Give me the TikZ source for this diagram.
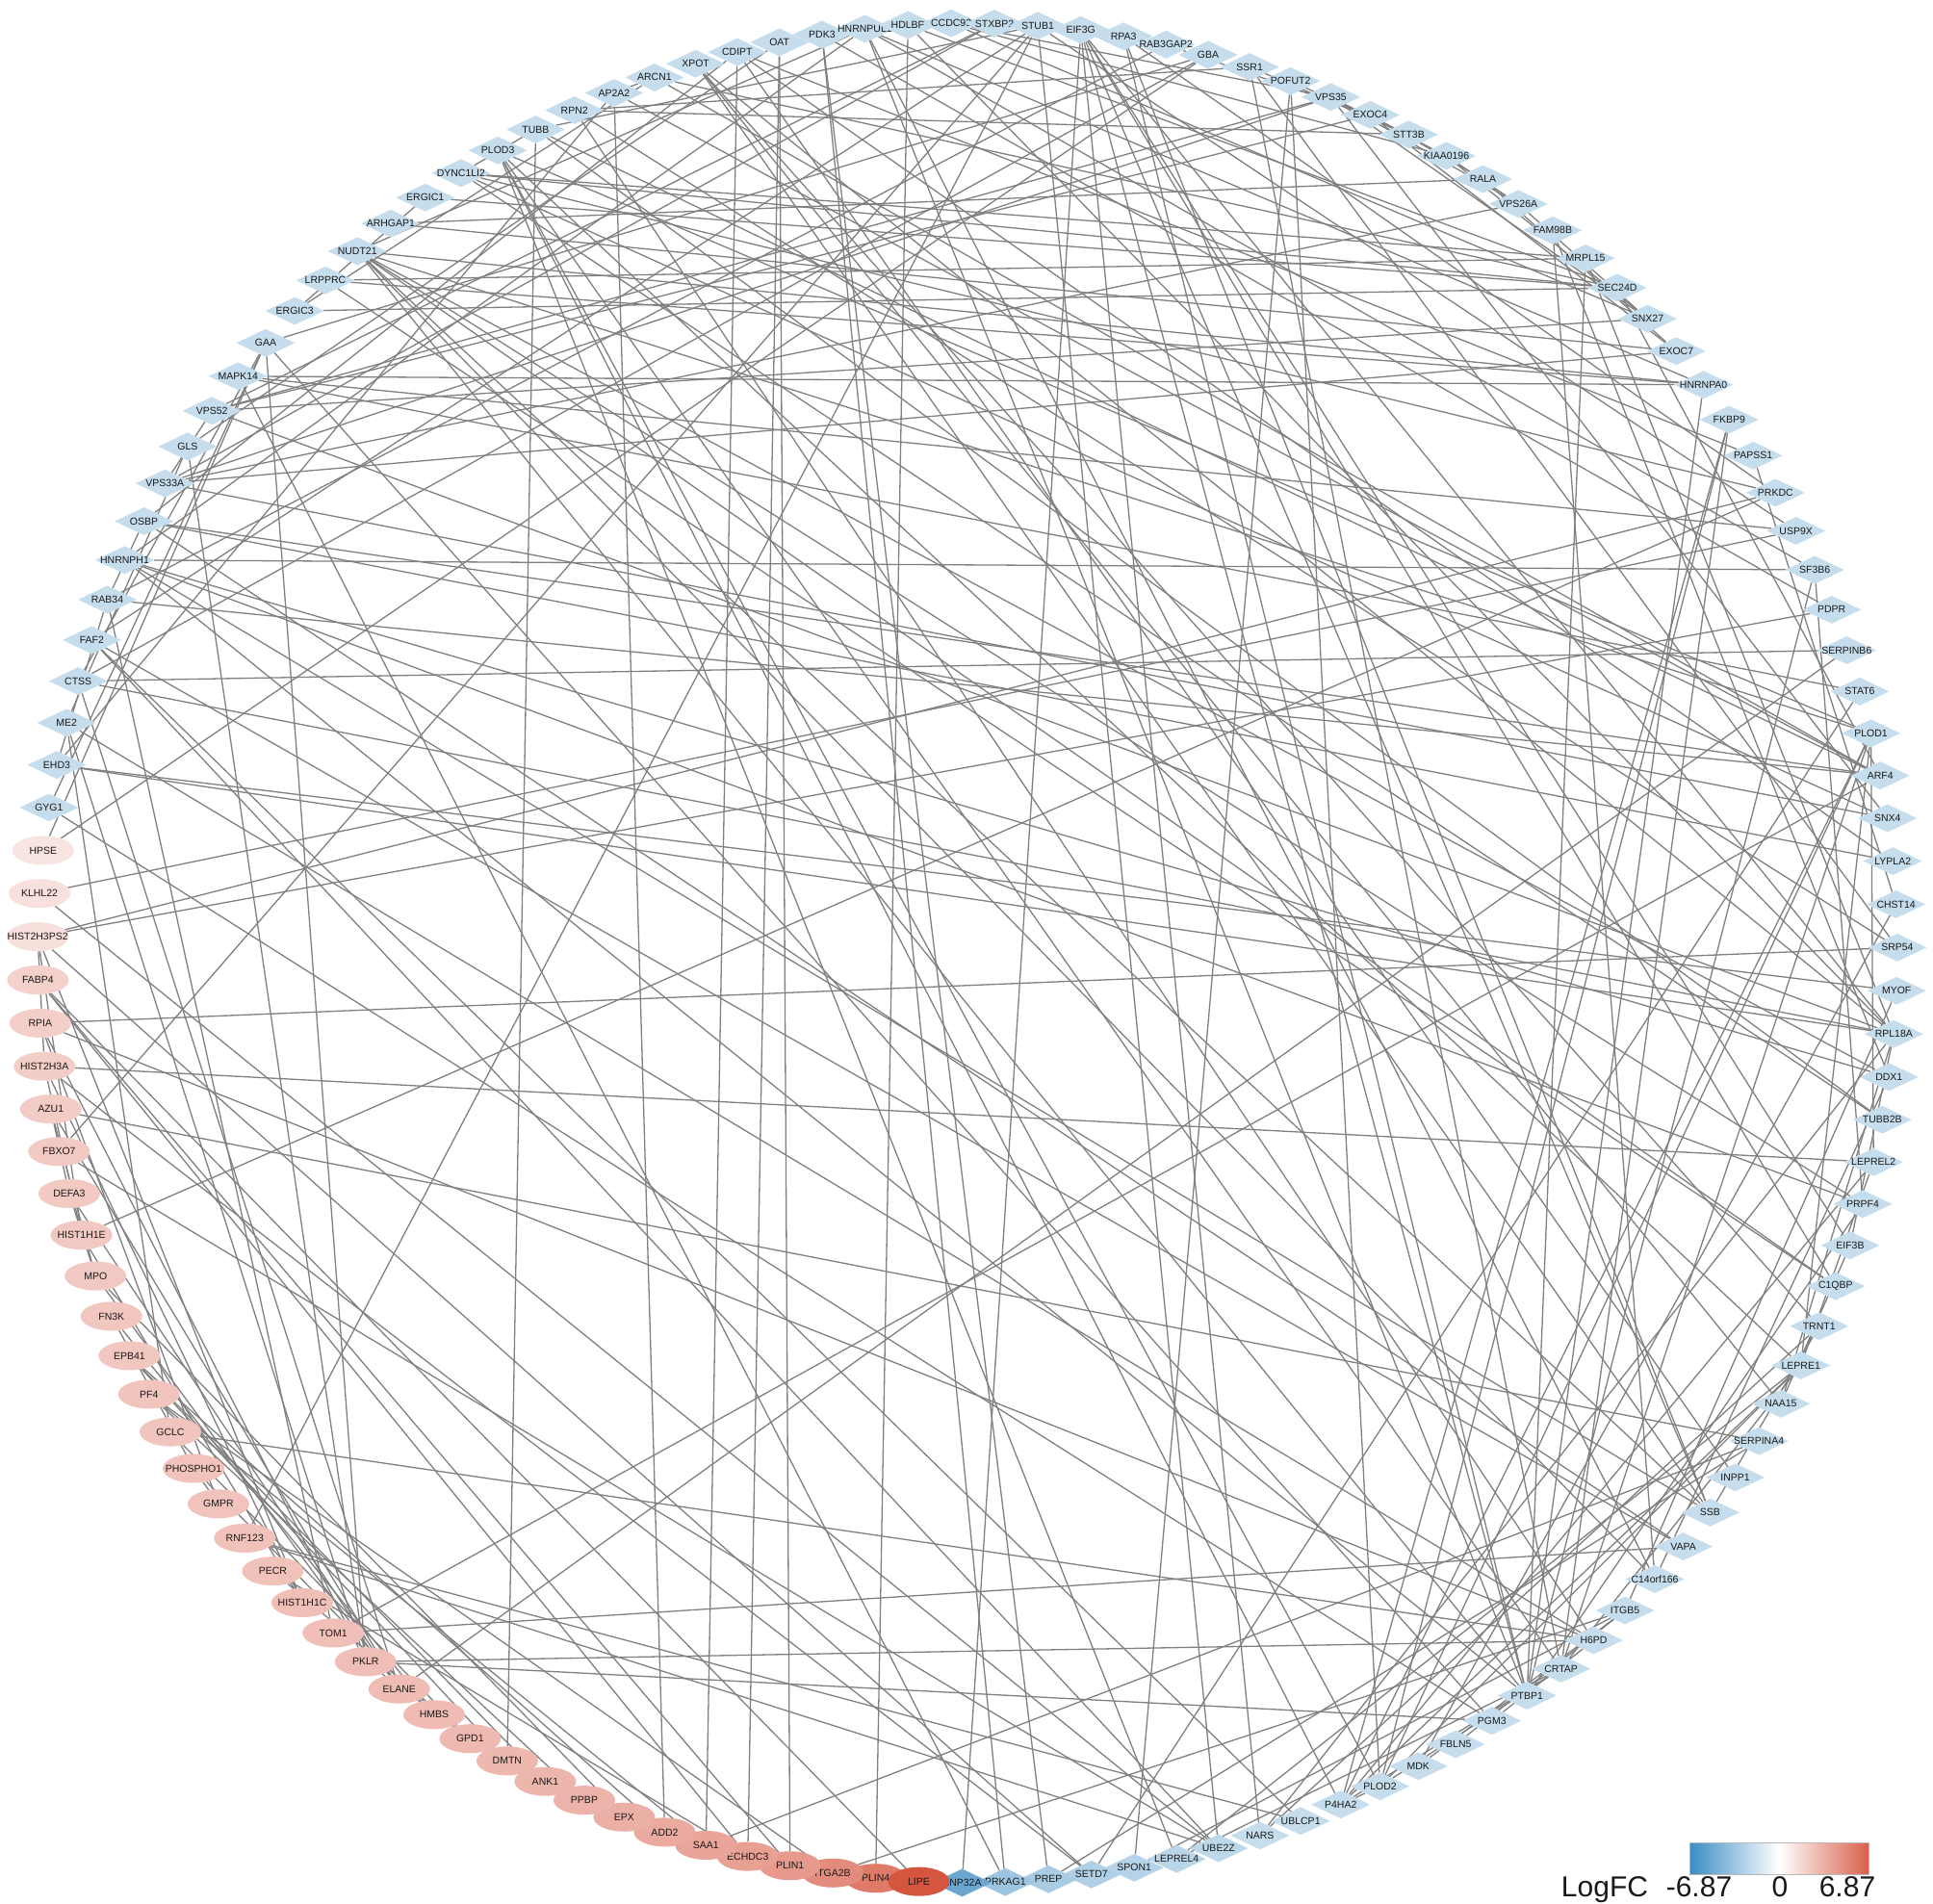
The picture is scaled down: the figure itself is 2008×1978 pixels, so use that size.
\documentclass[tikz,border=0pt]{standalone}
\usepackage{fontspec}
\setmainfont{Liberation Sans}
\usetikzlibrary{shapes.geometric}
\pgfdeclarelayer{bglayer}
\pgfdeclarelayer{edgelayer}
\pgfsetlayers{bglayer,edgelayer,main}
\definecolor{lb}{RGB}{197,221,236}
\definecolor{nb1}{RGB}{107,166,209}
\definecolor{nb2}{RGB}{157,196,224}
\definecolor{nb3}{RGB}{169,204,228}
\definecolor{nb4}{RGB}{175,208,230}
\definecolor{nb5}{RGB}{181,211,232}
\definecolor{nb6}{RGB}{185,214,233}
\definecolor{nb7}{RGB}{188,216,234}
\definecolor{lr}{RGB}{214,85,63}
\definecolor{legblue}{RGB}{58,140,196}
\definecolor{legred}{RGB}{217,96,76}
\definecolor{conngray}{RGB}{128,128,128}
\tikzset{
  bdia/.style={diamond, minimum width=61pt, minimum height=29pt, inner sep=0pt, draw=none},
  rell/.style={ellipse, minimum width=64pt, minimum height=30pt, inner sep=0pt, draw=none},
  lbl/.style={inner sep=0pt, text=black!90, font=\fontsize{10.5}{12}\selectfont},
  conn/.style={draw=conngray, line width=1.3pt},
  legtxt/.style={inner sep=0pt, text=black!90, font=\fontsize{30}{36}\selectfont}
}
\newcommand\mkblue[3]{%
  \node[bdia, fill=#3] (#2) at ({267+2.666667*#1}:966) {};
  \node[lbl] (#2-t) at (#2) {#2};}
\newcommand\mkred[3]{%
  \node[rell, fill=lr!#3!white] (#2) at ({267+2.666667*#1}:966) {};
  \node[lbl] (#2-t) at (#2) {#2};}
\begin{document}
\begin{tikzpicture}[x=1pt,y=1pt]
\begin{pgfonlayer}{bglayer}
\fill[white] (-1005,-988) rectangle (1003,990);
\end{pgfonlayer}
\useasboundingbox (-1005,-988) rectangle (1003,990);
% red nodes
\mkred{134}{PLIN4}{78}
\mkred{133}{ITGA2B}{68}
\mkred{132}{PLIN1}{60}
\mkred{131}{ECHDC3}{56}
\mkred{130}{SAA1}{53}
\mkred{129}{ADD2}{50}
\mkred{128}{EPX}{47}
\mkred{127}{PPBP}{45}
\mkred{126}{ANK1}{43}
\mkred{125}{DMTN}{42}
\mkred{124}{GPD1}{41}
\mkred{123}{HMBS}{40}
\mkred{122}{ELANE}{39}
\mkred{121}{PKLR}{38}
\mkred{120}{TOM1}{37}
\mkred{119}{HIST1H1C}{37}
\mkred{118}{PECR}{36}
\mkred{117}{RNF123}{36}
\mkred{116}{GMPR}{35}
\mkred{115}{PHOSPHO1}{35}
\mkred{114}{GCLC}{34}
\mkred{113}{PF4}{34}
\mkred{112}{EPB41}{33}
\mkred{111}{FN3K}{33}
\mkred{110}{MPO}{32}
\mkred{109}{HIST1H1E}{32}
\mkred{108}{DEFA3}{31}
\mkred{107}{FBXO7}{31}
\mkred{106}{AZU1}{30}
\mkred{105}{HIST2H3A}{29}
\mkred{104}{RPIA}{28}
\mkred{103}{FABP4}{27}
\mkred{102}{HIST2H3PS2}{19}
\mkred{101}{KLHL22}{18}
\mkred{100}{HPSE}{16}
% blue nodes
\mkblue{99}{GYG1}{lb}
\mkblue{98}{EHD3}{lb}
\mkblue{97}{ME2}{lb}
\mkblue{96}{CTSS}{lb}
\mkblue{95}{FAF2}{lb}
\mkblue{94}{RAB34}{lb}
\mkblue{93}{HNRNPH1}{lb}
\mkblue{92}{OSBP}{lb}
\mkblue{91}{VPS33A}{lb}
\mkblue{90}{GLS}{lb}
\mkblue{89}{VPS52}{lb}
\mkblue{88}{MAPK14}{lb}
\mkblue{87}{GAA}{lb}
\mkblue{86}{ERGIC3}{lb}
\mkblue{85}{LRPPRC}{lb}
\mkblue{84}{NUDT21}{lb}
\mkblue{83}{ARHGAP1}{lb}
\mkblue{82}{ERGIC1}{lb}
\mkblue{81}{DYNC1LI2}{lb}
\mkblue{80}{PLOD3}{lb}
\mkblue{79}{TUBB}{lb}
\mkblue{78}{RPN2}{lb}
\mkblue{77}{AP2A2}{lb}
\mkblue{76}{ARCN1}{lb}
\mkblue{75}{XPOT}{lb}
\mkblue{74}{CDIPT}{lb}
\mkblue{73}{OAT}{lb}
\mkblue{72}{PDK3}{lb}
\mkblue{71}{HNRNPUL1}{lb}
\mkblue{70}{HDLBP}{lb}
\mkblue{69}{CCDC93}{lb}
\mkblue{68}{STXBP2}{lb}
\mkblue{67}{STUB1}{lb}
\mkblue{66}{EIF3G}{lb}
\mkblue{65}{RPA3}{lb}
\mkblue{64}{RAB3GAP2}{lb}
\mkblue{63}{GBA}{lb}
\mkblue{62}{SSR1}{lb}
\mkblue{61}{POFUT2}{lb}
\mkblue{60}{VPS35}{lb}
\mkblue{59}{EXOC4}{lb}
\mkblue{58}{STT3B}{lb}
\mkblue{57}{KIAA0196}{lb}
\mkblue{56}{RALA}{lb}
\mkblue{55}{VPS26A}{lb}
\mkblue{54}{FAM98B}{lb}
\mkblue{53}{MRPL15}{lb}
\mkblue{52}{SEC24D}{lb}
\mkblue{51}{SNX27}{lb}
\mkblue{50}{EXOC7}{lb}
\mkblue{49}{HNRNPA0}{lb}
\mkblue{48}{FKBP9}{lb}
\mkblue{47}{PAPSS1}{lb}
\mkblue{46}{PRKDC}{lb}
\mkblue{45}{USP9X}{lb}
\mkblue{44}{SF3B6}{lb}
\mkblue{43}{PDPR}{lb}
\mkblue{42}{SERPINB6}{lb}
\mkblue{41}{STAT6}{lb}
\mkblue{40}{PLOD1}{lb}
\mkblue{39}{ARF4}{lb}
\mkblue{38}{SNX4}{lb}
\mkblue{37}{LYPLA2}{lb}
\mkblue{36}{CHST14}{lb}
\mkblue{35}{SRP54}{lb}
\mkblue{34}{MYOF}{lb}
\mkblue{33}{RPL18A}{lb}
\mkblue{32}{DDX1}{lb}
\mkblue{31}{TUBB2B}{lb}
\mkblue{30}{LEPREL2}{lb}
\mkblue{29}{PRPF4}{lb}
\mkblue{28}{EIF3B}{lb}
\mkblue{27}{C1QBP}{lb}
\mkblue{26}{TRNT1}{lb}
\mkblue{25}{LEPRE1}{lb}
\mkblue{24}{NAA15}{lb}
\mkblue{23}{SERPINA4}{lb}
\mkblue{22}{INPP1}{lb}
\mkblue{21}{SSB}{lb}
\mkblue{20}{VAPA}{lb}
\mkblue{19}{C14orf166}{lb}
\mkblue{18}{ITGB5}{lb}
\mkblue{17}{H6PD}{lb}
\mkblue{16}{CRTAP}{lb}
\mkblue{15}{PTBP1}{lb}
\mkblue{14}{PGM3}{lb}
\mkblue{13}{FBLN5}{lb}
\mkblue{12}{MDK}{lb}
\mkblue{11}{PLOD2}{lb}
\mkblue{10}{P4HA2}{lb}
\mkblue{9}{UBLCP1}{lb}
\mkblue{8}{NARS}{lb}
\mkblue{7}{UBE2Z}{nb7}
\mkblue{6}{LEPREL4}{nb6}
\mkblue{5}{SPON1}{nb5}
\mkblue{4}{SETD7}{nb4}
\mkblue{3}{PREP}{nb3}
\mkblue{2}{PRKAG1}{nb2}
\mkblue{1}{ANP32A}{nb1}
\mkred{0}{LIPE}{100}
% connectors
\begin{pgfonlayer}{edgelayer}
\foreach \a/\b in {PLOD1/PLOD2, PLOD1/PLOD3, PLOD2/PLOD3, P4HA2/PLOD1, P4HA2/PLOD3,
 P4HA2/LEPRE1, P4HA2/LEPREL2, P4HA2/CRTAP, CRTAP/LEPRE1, CRTAP/LEPREL4, LEPRE1/LEPREL4,
 LEPRE1/PLOD1, LEPRE1/PLOD2, LEPREL2/PLOD1, PLOD3/LEPRE1, PLOD3/CRTAP, PLOD3/LEPREL4,
 PLOD1/CRTAP, PLOD2/CRTAP, FKBP9/P4HA2, FKBP9/CRTAP, FKBP9/PLOD2, PLOD2/P4HA2,
 LEPREL2/LEPRE1, SPON1/POFUT2, ITGB5/ITGA2B, ITGB5/MDK, ITGB5/FBLN5, ITGB5/SPON1,
 CHST14/PAPSS1, MDK/CHST14,
 VPS35/VPS26A, VPS35/SNX27, VPS26A/SNX27, VPS35/KIAA0196, VPS26A/KIAA0196, SNX27/KIAA0196,
 CCDC93/VPS35, CCDC93/KIAA0196, CCDC93/SNX27, VPS35/VPS52, VPS52/VPS33A, VPS33A/STXBP2,
 VPS52/STXBP2, VPS33A/VPS35, VPS33A/VPS26A, VPS52/SNX27, VPS52/EXOC4, VPS33A/SNX4,
 SNX4/VPS35, SNX4/DYNC1LI2, EXOC4/EXOC7, EXOC4/RALA, EXOC7/RALA, VPS33A/EXOC7,
 ARHGAP1/RALA, ARHGAP1/EXOC7, SEC24D/ARCN1, SEC24D/ERGIC3, SEC24D/ERGIC1, ERGIC1/ERGIC3,
 ARCN1/ERGIC3, ARCN1/ARF4, ARF4/SEC24D, AP2A2/ARF4, AP2A2/ADD2, AP2A2/EHD3, ARCN1/AP2A2,
 RAB34/ARF4, RAB34/RAB3GAP2, RAB34/TOM1, RAB34/EHD3, RAB34/OSBP, OSBP/VAPA, OSBP/CDIPT,
 OSBP/ARF4, FAF2/VAPA, FAF2/UBE2Z, FAF2/STUB1, FAF2/UBLCP1, TOM1/VAPA, TOM1/ARF4,
 EHD3/MYOF, RPN2/SSR1, RPN2/STT3B, SSR1/STT3B, SRP54/SSR1, SRP54/RPN2, RPN2/H6PD,
 STT3B/POFUT2, SSR1/CRTAP, POFUT2/PLOD2, GBA/GAA, GAA/GYG1, GAA/CTSS, GAA/HPSE, GAA/PGM3,
 GAA/PKLR, GBA/CTSS, GBA/HPSE, TUBB/TUBB2B, TUBB/DYNC1LI2, TUBB2B/DYNC1LI2, TUBB/DMTN,
 TUBB/STUB1, TUBB/ARF4, DYNC1LI2/SEC24D, DYNC1LI2/MRPL15, DYNC1LI2/PRKDC,
 HNRNPH1/SF3B6, HNRNPH1/PTBP1, HNRNPH1/HNRNPUL1, HNRNPH1/PRPF4, HNRNPH1/DDX1, HNRNPH1/SSB,
 PTBP1/HNRNPUL1, PTBP1/SF3B6, PTBP1/NUDT21, PTBP1/PRPF4, PTBP1/HNRNPA0, SF3B6/PRPF4,
 HNRNPA0/HNRNPUL1, NUDT21/HNRNPA0, NUDT21/SSB, NUDT21/PRPF4, NUDT21/C1QBP, NUDT21/DDX1,
 NUDT21/HNRNPUL1, NUDT21/C14orf166, DDX1/C14orf166, DDX1/FAM98B, C14orf166/FAM98B,
 HNRNPUL1/SF3B6, HNRNPUL1/C14orf166, RPA3/PRKDC, RPA3/SSB, RPA3/PTBP1, PRKDC/HIST2H3PS2,
 PRKDC/HIST1H1E, XPOT/TRNT1, XPOT/SSB, XPOT/RPL18A, XPOT/NAA15, TRNT1/SSB, TRNT1/NARS,
 EIF3G/EIF3B, EIF3B/RPL18A, EIF3G/RPL18A, NAA15/RPL18A, NAA15/EIF3B, NARS/EIF3G,
 NARS/RPL18A, MRPL15/RPL18A, MRPL15/LRPPRC, MRPL15/PTBP1, RPL18A/VPS52, RPL18A/CTSS,
 HDLBP/RPL18A, HDLBP/PLIN4, HDLBP/SEC24D, LRPPRC/C1QBP, LRPPRC/HNRNPA0, C1QBP/EIF3G,
 EIF3G/PTBP1, EIF3G/SSB, STAT6/MAPK14, STAT6/SETD7, MAPK14/HNRNPA0, MAPK14/PRKAG1,
 MAPK14/USP9X, USP9X/KLHL22,
 PDK3/PDPR, PDK3/PRKAG1, HIST2H3PS2/PDPR, GLS/OAT, GLS/ME2, GLS/PKLR, ME2/H6PD, ME2/PKLR,
 GCLC/ME2, OAT/ECHDC3, OAT/PLIN1, CDIPT/INPP1, CDIPT/SAA1, CDIPT/LYPLA2, CDIPT/PAPSS1,
 LYPLA2/OSBP, PKLR/H6PD, PKLR/PGM3, PKLR/GPD1, PKLR/RPIA, RPIA/SRP54, RPIA/H6PD, RPIA/GMPR,
 H6PD/GCLC, H6PD/PGM3, GCLC/GPD1, PHOSPHO1/FN3K, PHOSPHO1/GMPR, PHOSPHO1/HMBS, FN3K/HMBS,
 PECR/ECHDC3, PECR/GPD1, LIPE/PLIN1, LIPE/PLIN4, LIPE/FABP4, LIPE/PRKAG1, PLIN1/FABP4,
 PLIN1/PLIN4, FABP4/ECHDC3,
 ANK1/EPB41, ANK1/ADD2, EPB41/ADD2, DMTN/ADD2, DMTN/EPB41, ANK1/DMTN, ITGA2B/PF4,
 ITGA2B/PPBP, PF4/PPBP, PF4/SAA1, HMBS/ANK1,
 AZU1/ELANE, AZU1/MPO, ELANE/MPO, DEFA3/ELANE, DEFA3/MPO, DEFA3/AZU1, EPX/MPO, CTSS/ELANE,
 AZU1/SERPINA4, SERPINB6/ELANE, SERPINB6/CTSS, SERPINA4/SAA1,
 HIST1H1C/HIST1H1E, HIST2H3A/HIST2H3PS2, HIST1H1C/HIST2H3A, HIST1H1E/HIST2H3A,
 HIST1H1C/HIST2H3PS2, HIST1H1E/HIST2H3PS2, SETD7/HIST2H3A, SETD7/HIST2H3PS2,
 HIST2H3A/LEPREL2,
 STUB1/UBE2Z, STUB1/FBXO7, STUB1/USP9X, KLHL22/UBE2Z, FBXO7/UBE2Z, RNF123/UBE2Z,
 RNF123/UBLCP1, RNF123/STUB1,
 PREP/PDK3, PREP/SERPINA4, ANP32A/EIF3G, GYG1/PGM3, RAB3GAP2/EXOC4, MYOF/ITGB5,
 EHD3/RPL18A, NUDT21/PLOD1}
  \draw[conn] (\a) -- (\b);
\end{pgfonlayer}
% legend
\node[minimum width=186pt, minimum height=33pt, inner sep=0pt,
      left color=legblue, right color=legred, middle color=white,
      draw=gray!55, line width=0.8pt] (legbar) at (843,-940.5) {};
\node[legtxt, anchor=base] (leg1) at (662,-980) {LogFC};
\node[legtxt, anchor=base] (leg2) at (760,-980) {-6.87};
\node[legtxt, anchor=base] (leg3) at (844,-980) {0};
\node[legtxt, anchor=base] (leg4) at (914,-980) {6.87};
\end{tikzpicture}
\end{document}
